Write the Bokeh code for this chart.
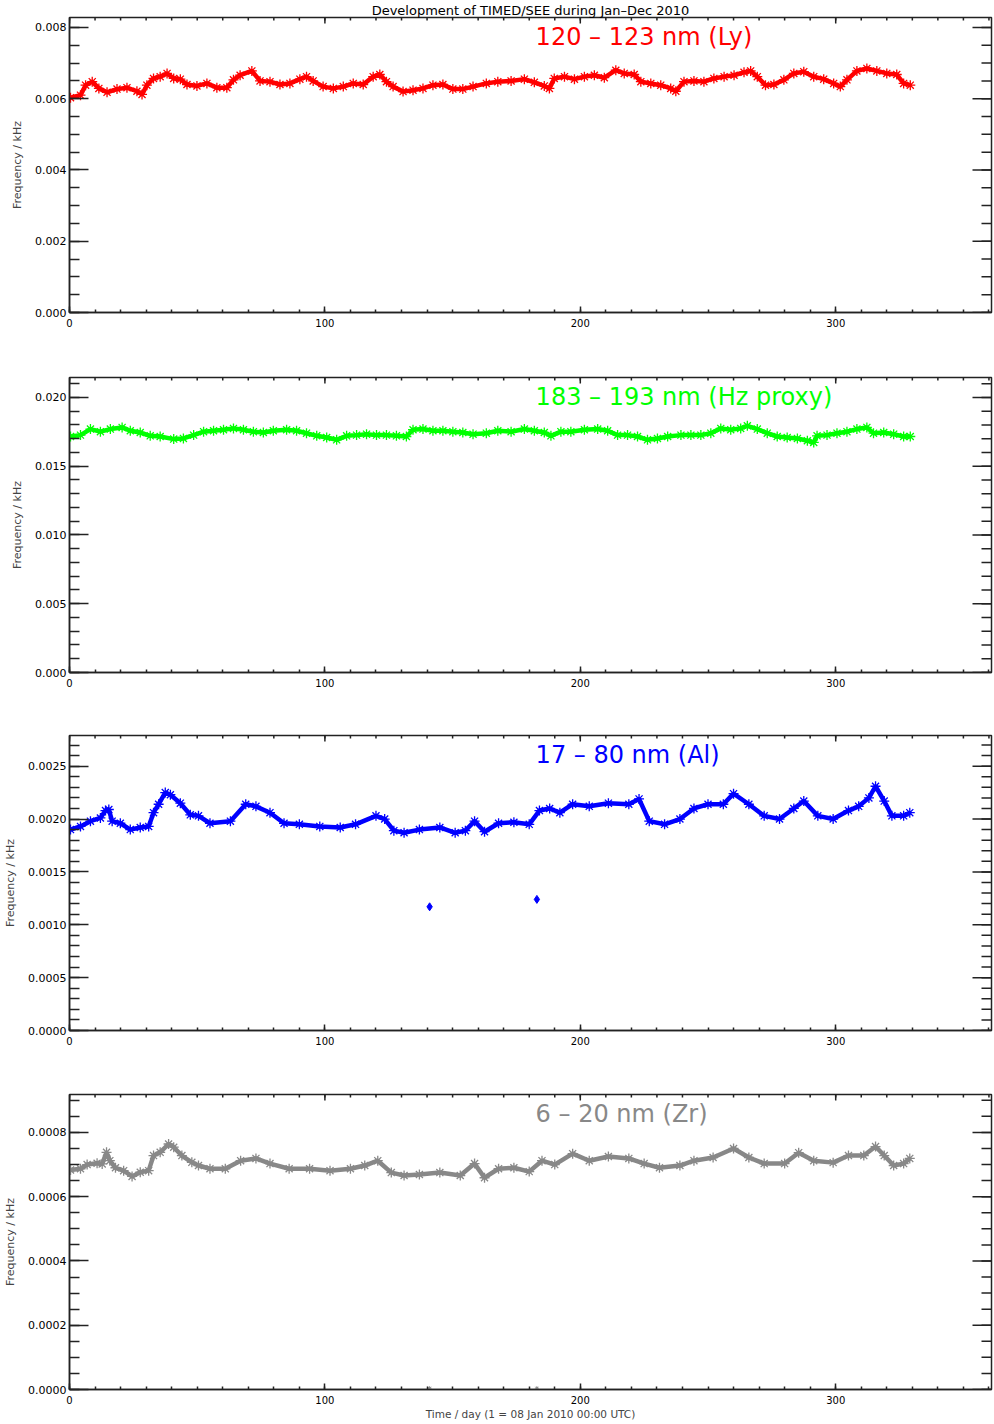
import math
from bokeh.plotting import figure
from bokeh.models import Range1d, FixedTicker, Label, PrintfTickFormatter
from bokeh.layouts import column
from bokeh.embed import file_html
from bokeh.resources import INLINE

# ---------------- data ----------------
title_text = "Development of TIMED/SEE during Jan\u2013Dec 2010"
xlabel_text = "Time / day (1 = 08 Jan 2010 00:00 UTC)"
ylabel_text = "Frequency / kHz"
x_ticks = [0, 100, 200, 300]
x_minor = list(range(0, 370, 10))

ly_days = [0.4, 4.3, 6.3, 8.9, 11.5, 14.7, 18.6, 22.5, 26.4, 28.4, 30.3, 32.9, 35.5, 38.2, 40.8, 43.4,
           46.0, 49.9, 53.8, 57.7, 61.6, 64.2, 66.8, 71.4, 74.6, 78.5, 82.4, 86.3, 90.2, 92.8, 95.4,
           99.3, 103.3, 107.2, 111.1, 115.0, 118.9, 121.5, 124.1, 126.7, 130.6, 134.5, 138.4, 142.3,
           146.2, 150.1, 154.0, 158.0, 163.2, 167.7, 172.9, 178.1, 182.0, 185.9, 187.9, 189.8, 193.8,
           197.7, 201.6, 205.5, 209.4, 213.9, 217.2, 221.1, 223.7, 227.6, 231.5, 235.4, 237.4, 240.6,
           244.5, 248.4, 252.3, 256.3, 260.2, 264.1, 266.7, 269.3, 272.5, 275.8, 279.7, 283.6, 287.5,
           291.4, 295.3, 299.2, 301.8, 304.4, 308.3, 312.2, 316.1, 320.0, 323.9, 326.6, 329.2]
ly_vals = [0.00603, 0.0061, 0.00638, 0.00648, 0.00629, 0.00618, 0.00627, 0.00631, 0.00621, 0.00612,
           0.00638, 0.00657, 0.00662, 0.00671, 0.00657, 0.00655, 0.0064, 0.00636, 0.00643, 0.00631,
           0.00631, 0.00653, 0.00666, 0.00678, 0.0065, 0.00648, 0.0064, 0.00643, 0.00655, 0.00662,
           0.0065, 0.00634, 0.00629, 0.00634, 0.00643, 0.0064, 0.00662, 0.00668, 0.00648, 0.00634,
           0.0062, 0.00624, 0.00629, 0.00638, 0.0064, 0.00627, 0.00627, 0.00634, 0.00643,
           0.00648, 0.0065, 0.00655, 0.00646, 0.00636, 0.00629, 0.00657, 0.00662, 0.00655, 0.00662,
           0.00666, 0.00659, 0.0068, 0.00671, 0.00668, 0.00648, 0.00643, 0.00638, 0.00629, 0.00621,
           0.00648, 0.0065, 0.00648, 0.00657, 0.00662, 0.00666, 0.00674, 0.00678, 0.00662, 0.00638,
           0.0064, 0.00653, 0.00671, 0.00676, 0.00662, 0.00655, 0.00643, 0.00634, 0.00653, 0.00678,
           0.00685, 0.00678, 0.00671, 0.00668, 0.00643, 0.00638]

hz_days = [0.4, 4.3, 8.2, 12.1, 16.0, 20.6, 23.8, 27.7, 31.6, 35.5, 40.8, 44.6, 48.6, 52.5, 56.4,
           60.3, 64.2, 68.1, 72.0, 75.9, 79.8, 85.0, 88.9, 92.8, 96.8, 100.7, 104.6, 108.5, 112.4,
           116.3, 120.2, 124.1, 128.0, 131.9, 134.5, 138.4, 142.3, 146.2, 150.1, 154.0, 158.0, 163.2,
           167.7, 172.9, 178.1, 182.0, 185.9, 188.5, 192.4, 196.3, 201.6, 206.8, 210.7, 214.6, 218.5,
           222.4, 226.3, 230.2, 234.2, 239.4, 243.3, 247.2, 251.1, 255.0, 258.9, 262.8, 265.4, 269.3,
           273.2, 277.1, 281.0, 285.0, 288.9, 291.4, 292.7, 296.6, 300.5, 304.4, 308.3, 312.2, 314.8,
           318.8, 322.7, 326.6, 329.2]
hz_vals = [0.01716, 0.01726, 0.0177, 0.01751, 0.0177, 0.01782, 0.01758, 0.01745, 0.01721, 0.01716,
           0.01697, 0.01702, 0.01726, 0.01751, 0.01758, 0.01765, 0.01775, 0.01765, 0.01751, 0.01745,
           0.01758, 0.01765, 0.01758, 0.0174, 0.01721, 0.01709, 0.01692, 0.01721, 0.01726, 0.01733,
           0.01726, 0.01726, 0.01721, 0.01716, 0.01765, 0.0177, 0.01758, 0.01758, 0.01751, 0.01745,
           0.01733, 0.0174,
           0.01758, 0.01751, 0.0177, 0.01758, 0.01745, 0.01721, 0.01751, 0.01751, 0.01765, 0.0177,
           0.01758, 0.01726, 0.01726, 0.01716, 0.01692, 0.01702, 0.01716, 0.01726, 0.01726, 0.01726,
           0.0174, 0.01775, 0.01765, 0.01775, 0.01794, 0.0177, 0.0174, 0.01716, 0.01709, 0.01702,
           0.01685, 0.01673, 0.01721, 0.01726, 0.0174, 0.01751, 0.0177, 0.01782, 0.0174, 0.01745,
           0.01733, 0.01716, 0.01716]

al_days = [0.4, 4.3, 8.2, 12.1, 14.1, 15.4, 16.7, 19.9, 23.8, 27.7, 31.0, 32.9, 34.9, 37.5, 39.5,
           43.4, 47.3, 50.5, 55.0, 63.0, 69.0, 73.0, 78.5, 84.0, 90.0, 98.0, 106.0, 112.0, 120.0,
           123.4, 127.0, 131.0, 137.0, 145.0, 151.0, 155.0, 158.6, 162.5, 168.0, 174.0, 180.0, 184.0,
           188.0, 192.0, 197.0, 203.5, 211.0, 219.0, 223.0, 227.0, 233.0, 239.0, 244.5, 250.0, 256.0,
           260.0, 266.0, 272.0, 278.0, 283.6, 287.5, 293.0, 299.0, 305.0, 309.0, 313.0, 315.6, 319.0,
           322.0, 326.6, 329.0]
al_vals = [0.0019, 0.00193, 0.00198, 0.00201, 0.00208, 0.00209, 0.00198, 0.00196, 0.0019, 0.00192,
           0.00193, 0.00206, 0.00214, 0.00225, 0.00223, 0.00215, 0.00204, 0.00203, 0.00196, 0.00198,
           0.00214, 0.00212, 0.00206, 0.00196, 0.00195, 0.00193, 0.00192, 0.00195, 0.00203, 0.002,
           0.00189, 0.00187, 0.0019, 0.00192, 0.00187, 0.00189, 0.00198, 0.00188, 0.00196, 0.00197,
           0.00195, 0.00208, 0.0021, 0.00206, 0.00214, 0.00212, 0.00215, 0.00214, 0.00219, 0.00198,
           0.00195, 0.002, 0.0021, 0.00214, 0.00214, 0.00224, 0.00214, 0.00203, 0.002, 0.0021,
           0.00217, 0.00203, 0.002, 0.00208, 0.00212, 0.0022, 0.00231, 0.00217, 0.00203, 0.00203,
           0.00206]
al_out_days = [141.0, 183.0]
al_out_vals = [0.00117, 0.00124]

zr_days = [0.4, 4.3, 6.9, 10.8, 12.8, 14.5, 15.8, 18.0, 21.2, 24.5, 27.7, 31.0, 32.9, 35.5, 38.8,
           40.8, 44.0, 47.9, 50.5, 55.0, 61.0, 67.0, 73.0, 78.5, 86.0, 94.0, 102.0, 110.0, 115.6,
           120.7, 126.0, 131.0, 137.0, 145.0, 153.0, 158.6, 162.5, 168.0, 174.0, 180.0, 185.0, 190.0,
           197.0, 203.5, 211.0, 219.0, 225.0, 231.0, 239.0, 244.5, 252.0, 260.0, 266.0, 272.0, 280.0,
           285.5, 291.4, 299.0, 305.0, 311.0, 315.6, 319.0, 322.7, 326.6, 329.0]
zr_vals = [0.000683, 0.000687, 0.0007, 0.000704, 0.000702, 0.000738, 0.000712, 0.00069, 0.000681,
           0.000663, 0.000676, 0.000681, 0.000728, 0.000738, 0.000764, 0.000754, 0.000728, 0.000707,
           0.000697, 0.000687, 0.000687, 0.000712, 0.000719, 0.000703, 0.000687, 0.000687, 0.000681,
           0.000687, 0.000697, 0.000712, 0.000675, 0.000666, 0.000669, 0.000675, 0.000666, 0.000703,
           0.000659, 0.000687, 0.00069, 0.000678, 0.000712, 0.0007, 0.000734, 0.000712, 0.000725,
           0.000719, 0.000703, 0.00069, 0.000697, 0.000712, 0.000722, 0.00075, 0.000722, 0.000703,
           0.000703, 0.000737, 0.000712, 0.000706, 0.000728, 0.000728, 0.000756, 0.000728, 0.000697,
           0.000703, 0.000719]
zr_out_days = [141.0, 183.0]
zr_out_vals = [0.000004, 0.000004]

# ---------------- styling ----------------
FONT = "DejaVu Sans"
AX = "#222222"
X_END = 361.0
FRAME_H = 295


def style_axis(ax, major_in, minor_in):
    ax.major_tick_in = major_in
    ax.major_tick_out = 0
    ax.minor_tick_in = minor_in
    ax.minor_tick_out = 0
    ax.axis_line_color = AX
    ax.axis_line_width = 1.5
    ax.major_tick_line_color = AX
    ax.major_tick_line_width = 1.5
    ax.minor_tick_line_color = AX
    ax.minor_tick_line_width = 1.5
    ax.major_label_text_font = FONT
    ax.major_label_text_color = "black"


def panel(height, top, bottom, y_end, y_major, y_minor, yfmt, days, vals, color, label,
          last=False, title=None):
    p = figure(width=994, height=height, x_range=Range1d(0, X_END), y_range=Range1d(0, y_end),
               output_backend="svg", toolbar_location=None,
               min_border_left=69, min_border_right=3, min_border_top=top, min_border_bottom=bottom)
    if title:
        p.title.text = title
        p.title.align = "center"
        p.title.text_font = FONT
        p.title.text_font_size = "13px"
        p.title.text_font_style = "normal"
        p.title.text_color = "black"
        p.title.standoff = 0
        p.title.offset = 0
    p.xgrid.visible = False
    p.ygrid.visible = False
    p.outline_line_color = AX
    p.outline_line_width = 1.5
    p.background_fill_color = "white"
    p.border_fill_color = "white"

    xa = p.xaxis[0]
    xa.ticker = FixedTicker(ticks=x_ticks, minor_ticks=x_minor)
    style_axis(xa, 6, 3)
    xa.major_label_text_font_size = "10px"
    xa.major_label_standoff = 6
    if last:
        xa.axis_label = xlabel_text
        xa.axis_label_text_font = FONT
        xa.axis_label_text_font_size = "10.5px"
        xa.axis_label_text_font_style = "normal"
        xa.axis_label_standoff = 1

    ya = p.yaxis[0]
    ya.ticker = FixedTicker(ticks=y_major, minor_ticks=y_minor)
    ya.formatter = PrintfTickFormatter(format=yfmt)
    style_axis(ya, 19, 10)
    ya.major_label_text_font_size = "11px"
    ya.major_label_standoff = 3
    ya.axis_label = ylabel_text
    ya.axis_label_text_font = FONT
    ya.axis_label_text_font_size = "11px"
    ya.axis_label_text_font_style = "normal"
    ya.axis_label_standoff = 8

    # mirrored ticks on the right and top edges (IDL box style)
    p.ray(x=[X_END] * len(y_major), y=y_major, length=19, length_units="screen", angle=math.pi,
          line_color=AX, line_width=1.5)
    p.ray(x=[X_END] * len(y_minor), y=y_minor, length=10, length_units="screen", angle=math.pi,
          line_color=AX, line_width=1.5)
    p.ray(x=x_ticks, y=[y_end] * len(x_ticks), length=6, length_units="screen",
          angle=-math.pi / 2, line_color=AX, line_width=1.5)
    p.ray(x=x_minor, y=[y_end] * len(x_minor), length=3, length_units="screen",
          angle=-math.pi / 2, line_color=AX, line_width=1.5)

    p.line(days, vals, line_color=color, line_width=4.5)
    p.scatter(days, vals, marker="asterisk", size=10, line_color=color, line_width=1.3)

    # series label near the top of the frame
    label_y = y_end - 19 * y_end / FRAME_H
    p.add_layout(Label(x=182.5, y=label_y, text=label, text_color=color, text_font=FONT,
                       text_font_size="24px", text_baseline="alphabetic", text_align="left"))
    return p


p1 = panel(360, 17, 48, 0.00828, [0, 0.002, 0.004, 0.006, 0.008],
           [i * 0.0005 for i in range(0, 17)], "%.3f",
           ly_days, ly_vals, "#ff0000", "120 \u2013 123 nm (Ly)", title=title_text)

p2 = panel(359, 17, 47, 0.02145, [0, 0.005, 0.010, 0.015, 0.020],
           [i * 0.001 for i in range(0, 22)], "%.3f",
           hz_days, hz_vals, "#00ff00", "183 \u2013 193 nm (Hz proxy)")

p3 = panel(358, 16, 47, 0.00279, [0, 0.0005, 0.0010, 0.0015, 0.0020, 0.0025],
           [i * 0.0001 for i in range(0, 28)], "%.4f",
           al_days, al_vals, "#0000ff", "17 \u2013 80 nm (Al)")
p3.scatter(al_out_days, al_out_vals, marker="diamond", size=8, fill_color="#0000ff",
           line_color="#0000ff")

p4 = panel(347, 17, 35, 0.000918, [0, 0.0002, 0.0004, 0.0006, 0.0008],
           [i * 0.00005 for i in range(0, 19)], "%.4f",
           zr_days, zr_vals, "#888888", "6 \u2013 20 nm (Zr)", last=True)
p4.scatter(zr_out_days, zr_out_vals, marker="asterisk", size=4, line_color="#888888")

layout = column(p1, p2, p3, p4, spacing=0)
open("out.html", "w").write(file_html(layout, INLINE))
